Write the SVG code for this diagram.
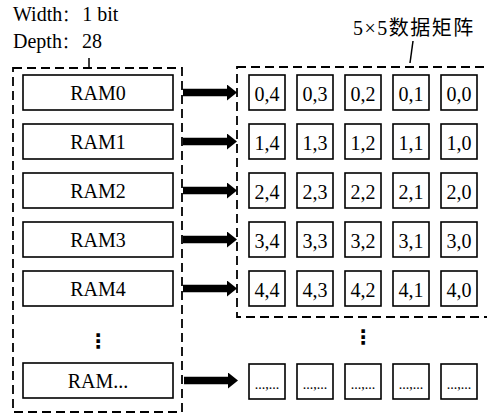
<svg xmlns="http://www.w3.org/2000/svg" width="487" height="415" viewBox="0 0 487 415">
<style>
text{font-family:"Liberation Serif","Times New Roman",serif;font-size:20px;fill:#000}
.cjk{font-family:"Noto Sans CJK SC","Noto Sans CJK JP",sans-serif}
.col{font-family:"Noto Sans CJK SC","Noto Sans CJK JP",sans-serif;font-size:16px}
.c{text-anchor:middle}
.box{fill:#fff;stroke:#000;stroke-width:1.6}
.dash{fill:none;stroke:#000;stroke-width:1.8;stroke-dasharray:9 5}
.arr{stroke:#000;stroke-width:7.5;fill:none;marker-end:url(#ah)}
.tick{stroke:#000;stroke-width:1.5;fill:none}
.sm{font-size:14px}
.dots{font-family:"DejaVu Sans",sans-serif;font-size:20px;font-weight:bold;text-anchor:middle}
</style>
<defs>
<marker id="ah" markerUnits="userSpaceOnUse" viewBox="0 0 10 16" markerWidth="10" markerHeight="16" refX="0" refY="8" orient="auto">
<path d="M0,0 L10,8 L0,16 Z" fill="#000"/>
</marker>
</defs>
<g id="labels">
<text x="13" y="21">Width<tspan class="col">：</tspan><tspan dx="4">1 bit</tspan></text>
<text x="13" y="48">Depth<tspan class="col">：</tspan><tspan dx="4">28</tspan></text>
<text x="353" y="35" letter-spacing="1.5">5×5<tspan class="cjk">数据矩阵</tspan></text>
</g>
<g id="ram-group">
<rect class="dash" x="13" y="68" width="169" height="344"/>
<line class="tick" x1="89" y1="58" x2="89" y2="68"/>
</g>
<g id="matrix-group">
<rect class="dash" x="237" y="67" width="262" height="250"/>
<line class="tick" x1="413" y1="41" x2="410" y2="63"/>
</g>
<g id="ram0"><rect class="box" x="23" y="75" width="150" height="35"/><text class="c" x="98" y="100">RAM0</text></g>
<g id="ram1"><rect class="box" x="23" y="124" width="150" height="35"/><text class="c" x="98" y="149">RAM1</text></g>
<g id="ram2"><rect class="box" x="23" y="173" width="150" height="35"/><text class="c" x="98" y="198">RAM2</text></g>
<g id="ram3"><rect class="box" x="23" y="222" width="150" height="35"/><text class="c" x="98" y="247">RAM3</text></g>
<g id="ram4"><rect class="box" x="23" y="271" width="150" height="35"/><text class="c" x="98" y="296">RAM4</text></g>
<g id="ram-dots"><text class="dots" x="98" y="348">⋮</text></g>
<g id="ramn"><rect class="box" x="23" y="363" width="150" height="35"/><text class="c" x="98" y="388">RAM...</text></g>
<g id="connectors">
<line class="arr" x1="183" y1="92.5" x2="227" y2="92.5"/>
<line class="arr" x1="183" y1="141.5" x2="227" y2="141.5"/>
<line class="arr" x1="183" y1="190.5" x2="227" y2="190.5"/>
<line class="arr" x1="183" y1="239.5" x2="227" y2="239.5"/>
<line class="arr" x1="183" y1="288.5" x2="227" y2="288.5"/>
<line class="arr" x1="184" y1="380.5" x2="228" y2="380.5"/>
</g>
<g id="row0">
<rect class="box" x="249" y="75" width="36" height="35"/><text class="c" x="267" y="101">0,4</text>
<rect class="box" x="297" y="75" width="36" height="35"/><text class="c" x="315" y="101">0,3</text>
<rect class="box" x="345" y="75" width="36" height="35"/><text class="c" x="363" y="101">0,2</text>
<rect class="box" x="393" y="75" width="36" height="35"/><text class="c" x="411" y="101">0,1</text>
<rect class="box" x="441" y="75" width="36" height="35"/><text class="c" x="459" y="101">0,0</text>
</g>
<g id="row1">
<rect class="box" x="249" y="124" width="36" height="35"/><text class="c" x="267" y="150">1,4</text>
<rect class="box" x="297" y="124" width="36" height="35"/><text class="c" x="315" y="150">1,3</text>
<rect class="box" x="345" y="124" width="36" height="35"/><text class="c" x="363" y="150">1,2</text>
<rect class="box" x="393" y="124" width="36" height="35"/><text class="c" x="411" y="150">1,1</text>
<rect class="box" x="441" y="124" width="36" height="35"/><text class="c" x="459" y="150">1,0</text>
</g>
<g id="row2">
<rect class="box" x="249" y="173" width="36" height="35"/><text class="c" x="267" y="199">2,4</text>
<rect class="box" x="297" y="173" width="36" height="35"/><text class="c" x="315" y="199">2,3</text>
<rect class="box" x="345" y="173" width="36" height="35"/><text class="c" x="363" y="199">2,2</text>
<rect class="box" x="393" y="173" width="36" height="35"/><text class="c" x="411" y="199">2,1</text>
<rect class="box" x="441" y="173" width="36" height="35"/><text class="c" x="459" y="199">2,0</text>
</g>
<g id="row3">
<rect class="box" x="249" y="222" width="36" height="35"/><text class="c" x="267" y="248">3,4</text>
<rect class="box" x="297" y="222" width="36" height="35"/><text class="c" x="315" y="248">3,3</text>
<rect class="box" x="345" y="222" width="36" height="35"/><text class="c" x="363" y="248">3,2</text>
<rect class="box" x="393" y="222" width="36" height="35"/><text class="c" x="411" y="248">3,1</text>
<rect class="box" x="441" y="222" width="36" height="35"/><text class="c" x="459" y="248">3,0</text>
</g>
<g id="row4">
<rect class="box" x="249" y="271" width="36" height="35"/><text class="c" x="267" y="297">4,4</text>
<rect class="box" x="297" y="271" width="36" height="35"/><text class="c" x="315" y="297">4,3</text>
<rect class="box" x="345" y="271" width="36" height="35"/><text class="c" x="363" y="297">4,2</text>
<rect class="box" x="393" y="271" width="36" height="35"/><text class="c" x="411" y="297">4,1</text>
<rect class="box" x="441" y="271" width="36" height="35"/><text class="c" x="459" y="297">4,0</text>
</g>
<g id="matrix-dots"><text class="dots" x="363" y="344">⋮</text></g>
<g id="rown">
<rect class="box" x="249" y="364" width="36" height="35"/><text class="c sm" x="267" y="389">...,...</text>
<rect class="box" x="297" y="364" width="36" height="35"/><text class="c sm" x="315" y="389">...,...</text>
<rect class="box" x="345" y="364" width="36" height="35"/><text class="c sm" x="363" y="389">...,...</text>
<rect class="box" x="393" y="364" width="36" height="35"/><text class="c sm" x="411" y="389">...,...</text>
<rect class="box" x="441" y="364" width="36" height="35"/><text class="c sm" x="459" y="389">...,...</text>
</g>
</svg>
